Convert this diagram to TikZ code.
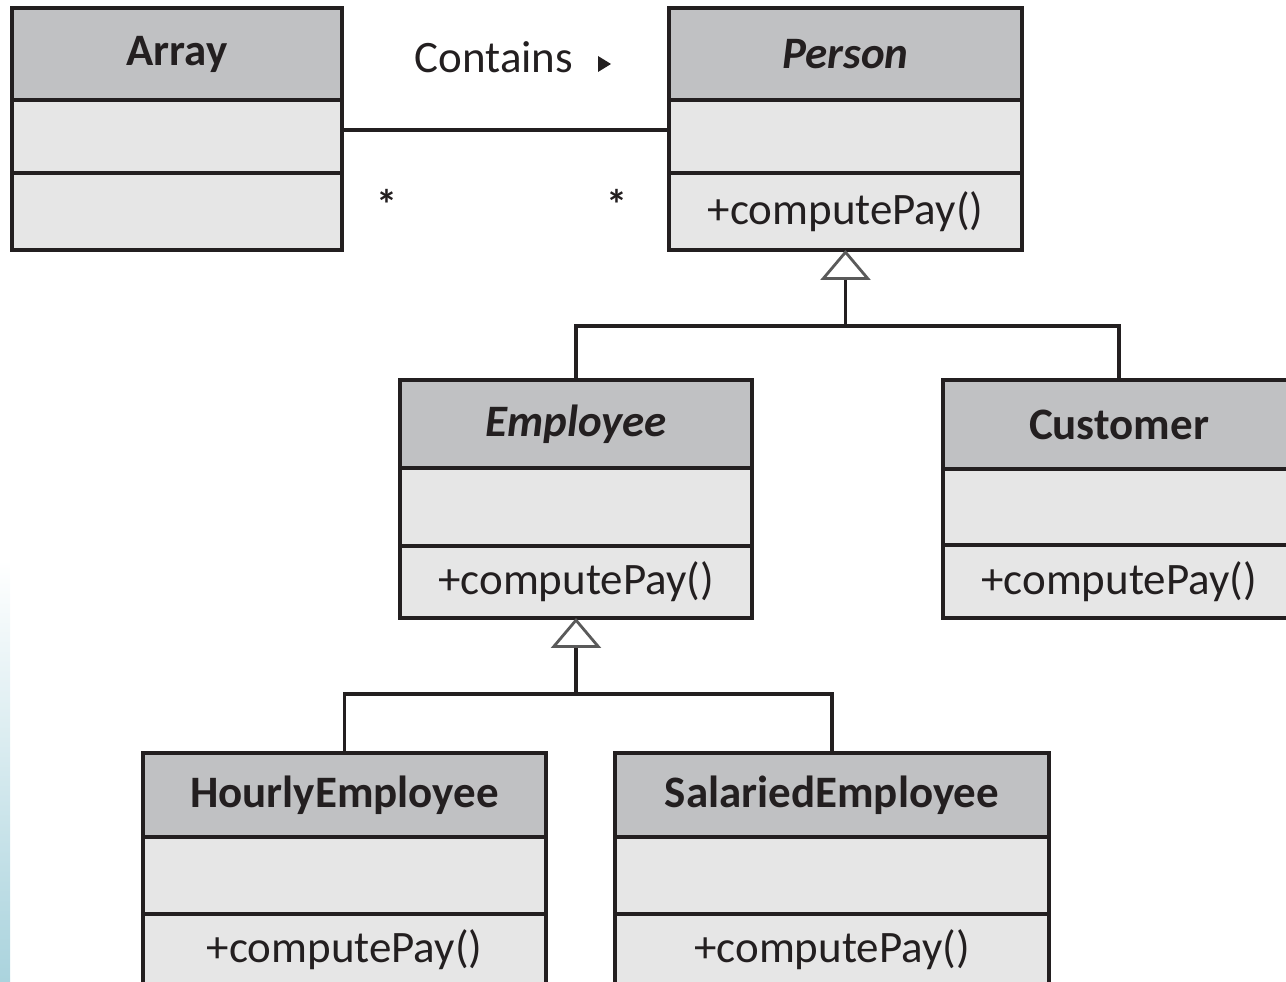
\documentclass[tikz,border=0pt]{standalone}
\usepackage{fontspec}
\setmainfont{Carlito}
\usetikzlibrary{arrows.meta}

\definecolor{ink}{HTML}{231F20}
\definecolor{hdrgray}{HTML}{C0C1C3}
\definecolor{bodygray}{HTML}{E6E6E6}
\definecolor{tipgray}{HTML}{5A5A5A}
\definecolor{edgeblue}{HTML}{AAD3DD}

% class box: id, x1, x2, y-top, first divider, second divider, y-bottom, title, operation
\newcommand\umlclass[9]{%
  \node[hdr, minimum width={(#3-#2)*0.02cm}, minimum height={(#5-#4)*0.02cm}] (#1) at (#2,#4) {#8};
  \node[cmp, minimum width={(#3-#2)*0.02cm}, minimum height={(#6-#5)*0.02cm}] (#1-a) at (#2,#5) {};
  \node[cmp, minimum width={(#3-#2)*0.02cm}, minimum height={(#7-#6)*0.02cm}] (#1-o) at (#2,#6) {#9};
}

\tikzset{
  txt/.style={text=ink, font=\fontsize{25.6}{30}\selectfont},
  box/.style={draw=ink, line width=0.08cm, inner sep=0pt, outer sep=0pt,
              anchor=north west, txt},
  hdr/.style={box, fill=hdrgray, font=\fontsize{25.6}{30}\selectfont\bfseries},
  cmp/.style={box, fill=bodygray},
  conn/.style={draw=ink, line width=0.07cm},
  inherit/.style={conn, -{Triangle[open, fill=white, length=0.6cm, width=1cm,
                  line width=1.6pt, color=tipgray]}},
  mult/.style={anchor=base, text=ink, font=\fontsize{24}{24}\selectfont\bfseries},
}

\begin{document}
\begin{tikzpicture}[x=0.02cm, y=-0.02cm]
  \useasboundingbox (0,0) rectangle (1286,982);
  \clip (0,0) rectangle (1286,982);

  % pale page edge
  \shade[top color=white, bottom color=edgeblue] (0,560) rectangle (10,982);

  % classes
  \umlclass{array}{12}{342}{8}{100}{173}{250}{Array}{}
  \umlclass{person}{669}{1022}{8}{100}{173}{250}{\itshape Person}{+computePay()}
  \umlclass{employee}{400}{752}{380}{468}{546}{618}{\itshape Employee}{+computePay()}
  \umlclass{customer}{943}{1295}{380}{469}{545}{618}{Customer}{+computePay()}
  \umlclass{hourly}{143}{546}{753}{837}{914}{986}{HourlyEmployee}{+computePay()}
  \umlclass{salaried}{615}{1049}{753}{837}{914}{986}{SalariedEmployee}{+computePay()}

  % association Array -- Person
  \coordinate (assoc) at (0,130);
  \draw[conn] (array-a.east |- assoc) -- (person-a.west |- assoc);
  \node[txt, anchor=base] (contains) at (494,73) {Contains};
  \fill[ink] (598,56) -- (611,64) -- (598,72) -- cycle;
  \node[mult] (m1) at (387,220) {*};
  \node[mult] (m2) at (617,220) {*};

  % generalisation to Person
  \coordinate (g1) at (person-o.south |- 0,326);
  \draw[conn] (employee.north) |- (g1) -| (customer.north);
  \draw[inherit] (g1) -- (person-o.south);

  % generalisation to Employee
  \coordinate (g2) at (employee-o.south |- 0,694);
  \draw[conn] (hourly.north) |- (g2) -| (salaried.north);
  \draw[inherit] (g2) -- (employee-o.south);
\end{tikzpicture}
\end{document}
